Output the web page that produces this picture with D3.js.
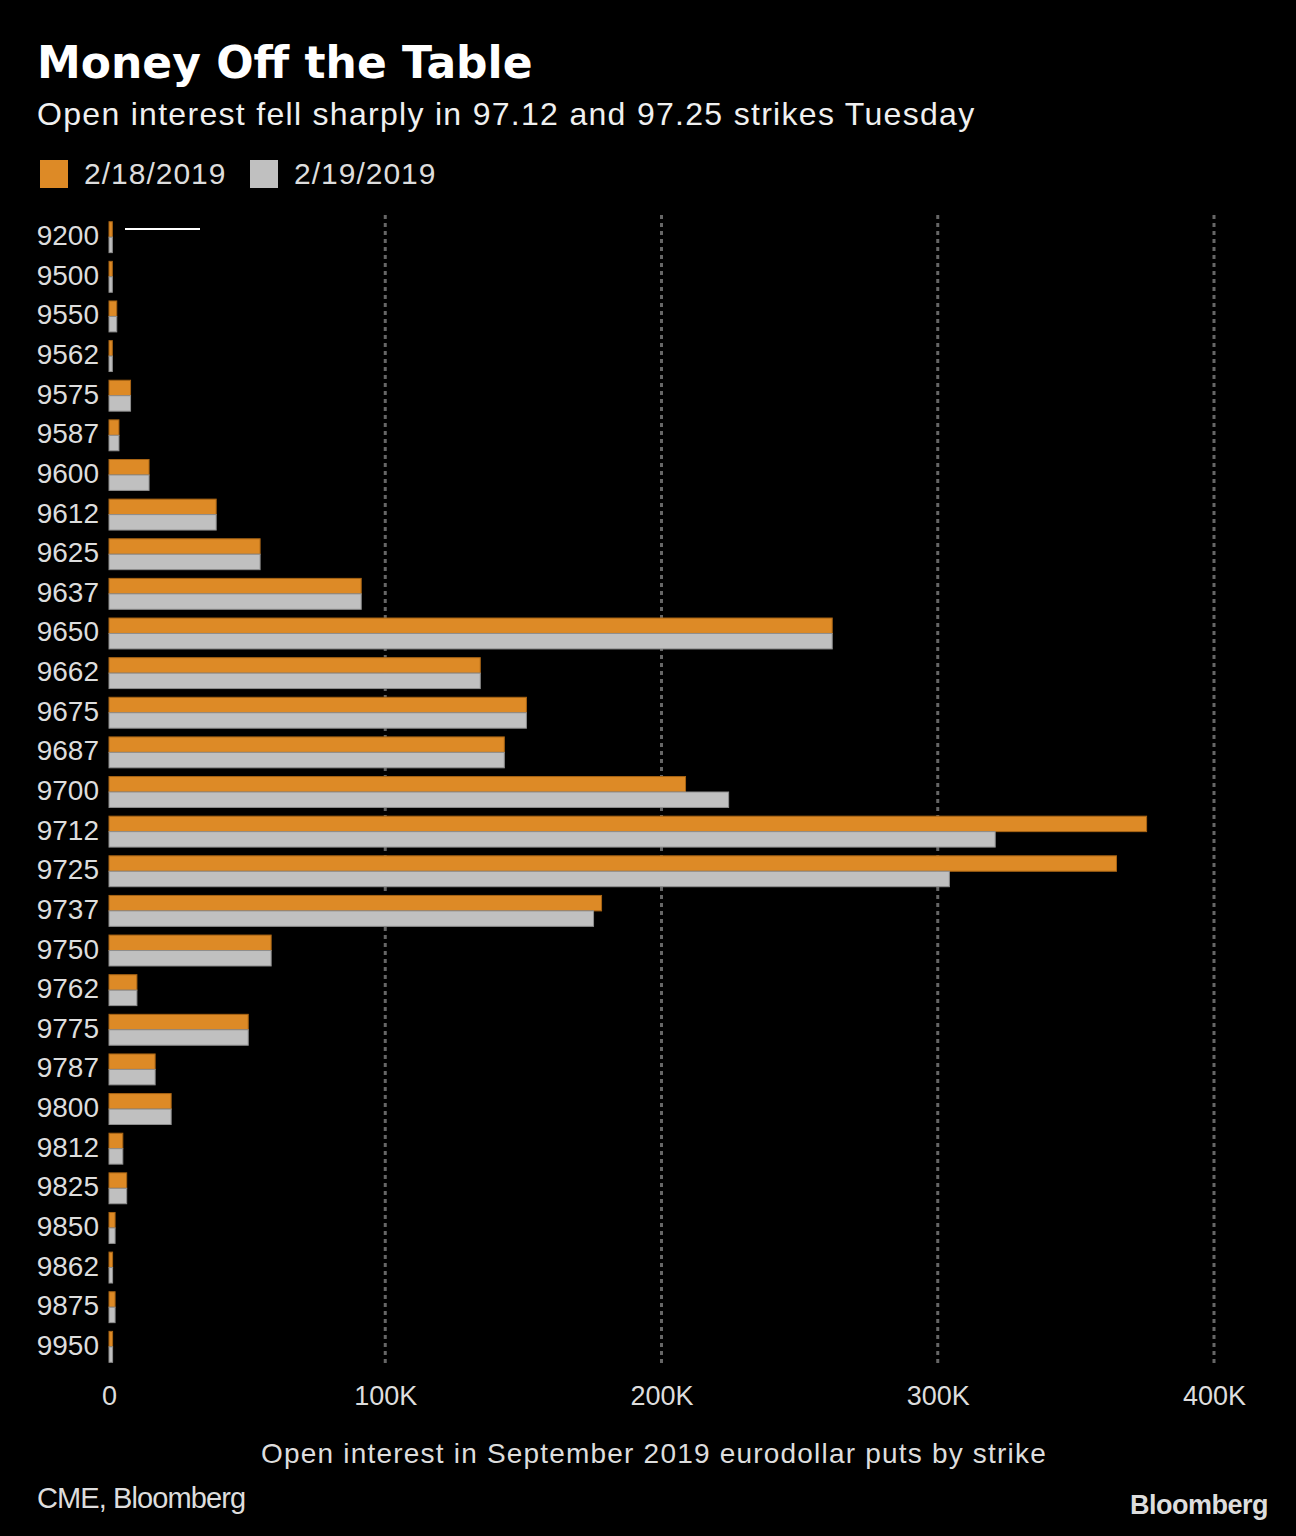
<!DOCTYPE html>
<html><head><meta charset="utf-8">
<script src="https://cdn.jsdelivr.net/npm/d3@7"></script>
<style>html,body{margin:0;padding:0;background:#000;}svg{display:block;}</style>
</head><body>
<script>
const strikes = ["9200","9500","9550","9562","9575","9587","9600","9612","9625","9637","9650","9662","9675","9687","9700","9712","9725","9737","9750","9762","9775","9787","9800","9812","9825","9850","9862","9875","9950"];
const oi0218 = [1.2,1.2,2.8,1.2,7.8,3.6,14.5,38.8,54.7,91.3,261.8,134.4,151.1,143.1,208.7,375.6,364.7,178.3,58.7,10.1,50.4,16.7,22.5,5.0,6.4,2.2,1.3,2.2,1.3].map(v=>v*1000);
const oi0219 = [1.2,1.2,2.8,1.2,7.8,3.6,14.5,38.8,54.7,91.3,261.8,134.4,151.1,143.1,224.3,320.8,304.2,175.4,58.7,10.1,50.4,16.7,22.5,5.0,6.4,2.2,1.3,2.2,1.3].map(v=>v*1000);
const seriesNames = ["2/18/2019","2/19/2019"];
const xTicks = [0,100000,200000,300000,400000];
const xTickLabels = ["0","100K","200K","300K","400K"];

const W=1296,H=1536;
const svg=d3.select("body").append("svg").attr("width",W).attr("height",H);
svg.append("rect").attr("width",W).attr("height",H).attr("fill","#000");
const font="'Liberation Sans', Arial, sans-serif";
const colors=["#dd8a26","#c0c0c0"];
const strokes=["#a86414","#8e8e8e"];

svg.append("text").attr("x",37).attr("y",78).attr("fill","#fff")
  .style("font-family","'DejaVu Sans', sans-serif").style("font-weight","bold").style("font-size","44px")
  .text("Money Off the Table");
svg.append("text").attr("x",37).attr("y",125).attr("fill","#f0f0f0")
  .style("font-family",font).style("font-size","32px").style("letter-spacing","1.3px")
  .text("Open interest fell sharply in 97.12 and 97.25 strikes Tuesday");

// legend
const lg=svg.append("g");
[[40,84],[250,294]].forEach((p,i)=>{
  lg.append("rect").attr("x",p[0]).attr("y",160).attr("width",28).attr("height",28).attr("fill",colors[i]);
  lg.append("text").attr("x",p[1]).attr("y",184).attr("fill","#ddd")
   .style("font-family",font).style("font-size","30px").style("letter-spacing","1px").text(seriesNames[i]);
});

const x=d3.scaleLinear().domain([0,400000]).range([109,1214]);
const y=d3.scaleBand().domain(strikes).range([213,1371]).paddingInner(0.22).paddingOuter(0.22);
const bw=y.bandwidth()/2;

// grid
svg.append("g").selectAll("line").data(xTicks.slice(1)).join("line")
  .attr("x1",d=>x(d)).attr("x2",d=>x(d)).attr("y1",215).attr("y2",1363)
  .attr("stroke","#666").attr("stroke-width",3).attr("stroke-dasharray","4,4");

// bars
const g=svg.append("g");
[oi0218,oi0219].forEach((vals,i)=>{
  g.selectAll(".b"+i).data(strikes).join("rect").attr("class","b"+i)
   .attr("x",x(0)).attr("y",d=>y(d)+i*bw)
   .attr("width",(d,j)=>Math.max(1,x(vals[j])-x(0))).attr("height",bw)
   .attr("fill",colors[i]).attr("stroke",strokes[i]).attr("stroke-width",1);
});

// y labels
svg.append("g").selectAll("text").data(strikes).join("text")
  .attr("x",99).attr("y",d=>y(d)+y.bandwidth()/2+8).attr("text-anchor","end")
  .attr("fill","#ddd").style("font-family",font).style("font-size","28px").text(d=>d);

// annotation line
svg.append("line").attr("x1",125).attr("x2",200).attr("y1",229).attr("y2",229)
  .attr("stroke","#fff").attr("stroke-width",2);

// x axis
const xa=d3.axisBottom(x).tickValues(xTicks).tickFormat((d,i)=>xTickLabels[i]).tickSize(0).tickPadding(0);
const ax=svg.append("g").attr("transform","translate(0,1405)").call(xa);
ax.select(".domain").remove();
ax.selectAll("text").attr("dy",0).attr("fill","#ddd").style("font-family",font).style("font-size","27px");

svg.append("text").attr("x",654).attr("y",1463).attr("text-anchor","middle").attr("fill","#ddd")
  .style("font-family",font).style("font-size","28px").style("letter-spacing","1.2px")
  .text("Open interest in September 2019 eurodollar puts by strike");
svg.append("text").attr("x",37).attr("y",1508).attr("fill","#ddd")
  .style("font-family",font).style("font-size","29px").style("letter-spacing","-0.9px").text("CME, Bloomberg");
svg.append("text").attr("x",1268).attr("y",1514).attr("text-anchor","end").attr("fill","#ddd")
  .style("font-family","'Liberation Sans', Arial, sans-serif").style("font-weight","bold").style("font-size","27px")
  .style("letter-spacing","-0.5px").text("Bloomberg");
</script>
</body></html>
